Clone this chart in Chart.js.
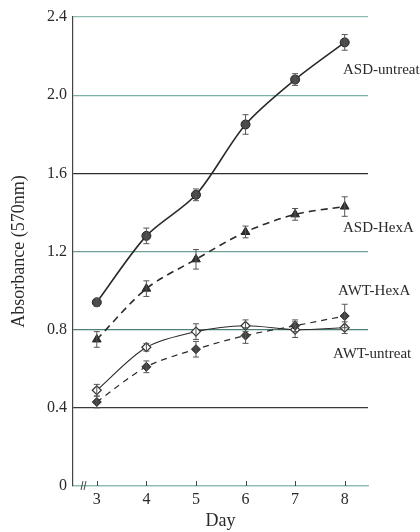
<!DOCTYPE html>
<html>
<head>
<meta charset="utf-8">
<script src="https://cdn.jsdelivr.net/npm/chart.js@4/dist/chart.umd.min.js"></script>
<style>
  html, body { margin: 0; padding: 0; background: #fff; }
  #wrap { width: 420px; height: 532px; }
</style>
</head>
<body>
<div id="wrap"><canvas id="chart"></canvas></div>
<script>
// Data
const days = [3, 4, 5, 6, 7, 8];
const yTicks = [0, 0.4, 0.8, 1.2, 1.6, 2.0, 2.4];

const asdUntreat = [0.94, 1.28, 1.49, 1.85, 2.08, 2.27];
const asdUntreatErr = [0.02, 0.04, 0.03, 0.05, 0.03, 0.04];

const asdHexA = [0.75, 1.01, 1.16, 1.30, 1.39, 1.43];
const asdHexAErr = [0.04, 0.04, 0.05, 0.03, 0.03, 0.05];

const awtUntreat = [0.49, 0.71, 0.79, 0.82, 0.80, 0.81];
const awtUntreatErr = [0.03, 0.02, 0.04, 0.03, 0.04, 0.03];

const awtHexA = [0.43, 0.61, 0.70, 0.77, 0.82, 0.87];
const awtHexAErr = [0.03, 0.03, 0.04, 0.04, 0.03, 0.06];

const seriesNames = ['ASD-untreat', 'ASD-HexA', 'AWT-HexA', 'AWT-untreat'];

const SERIF = '"Liberation Serif", "DejaVu Serif", serif';
const ink = '#2a2a2a';

// grid line colours per y tick (bottom to top)
const gridColors = ['#8cbcb2', '#3a3a3a', '#4f7f76', '#6f9f96', '#2e2e2e', '#7cb0a6', '#8cbcb2'];

function pts(vals) {
    return vals.map((v, i) => ({ x: days[i], y: v }));
}

// error bars, small upward x ticks, axis break and series labels
const extras = {
    id: 'extras',
    afterDatasetsDraw(chart) {
        const ctx = chart.ctx;
        const xs = chart.scales.x;
        const ys = chart.scales.y;
        ctx.save();
        ctx.strokeStyle = '#555';
        ctx.lineWidth = 1;
        chart.data.datasets.forEach(ds => {
            ds.data.forEach((p, i) => {
                const e = ds.err[i];
                const px = xs.getPixelForValue(p.x);
                const y1 = ys.getPixelForValue(p.y + e);
                const y2 = ys.getPixelForValue(p.y - e);
                ctx.beginPath();
                ctx.moveTo(px, y1); ctx.lineTo(px, y2);
                ctx.moveTo(px - 3, y1); ctx.lineTo(px + 3, y1);
                ctx.moveTo(px - 3, y2); ctx.lineTo(px + 3, y2);
                ctx.stroke();
            });
        });
        ctx.restore();
    },
    afterDraw(chart) {
        const ctx = chart.ctx;
        const xs = chart.scales.x;
        const ys = chart.scales.y;
        const base = ys.getPixelForValue(0);
        ctx.save();
        // ticks pointing up from the x axis
        ctx.strokeStyle = '#444';
        ctx.lineWidth = 1;
        days.forEach(d => {
            const px = Math.round(xs.getPixelForValue(d)) + 0.5;
            ctx.beginPath();
            ctx.moveTo(px, base);
            ctx.lineTo(px, base - 5);
            ctx.stroke();
        });
        // axis break mark
        const bx = chart.chartArea.left + 11;
        ctx.beginPath();
        ctx.moveTo(bx - 1, base - 5); ctx.lineTo(bx - 3, base + 4);
        ctx.moveTo(bx + 2, base - 5); ctx.lineTo(bx, base + 4);
        ctx.stroke();

        // series labels at the right side
        ctx.fillStyle = ink;
        ctx.font = '15px ' + SERIF;
        ctx.textBaseline = 'middle';
        const labelPos = [[343, 70], [343, 228], [338, 291], [333, 354]];
        seriesNames.forEach((name, i) => {
            ctx.fillText(name, labelPos[i][0], labelPos[i][1]);
        });
        ctx.restore();
    }
};

const ctx = document.getElementById('chart');
new Chart(ctx, {
    type: 'line',
    data: {
        datasets: [
            {
                label: 'ASD-untreat',
                data: pts(asdUntreat),
                err: asdUntreatErr,
                borderColor: ink,
                borderWidth: 1.6,
                tension: 0.3,
                pointStyle: 'circle',
                pointRadius: 4.5,
                pointBackgroundColor: '#4a4a4a',
                pointBorderColor: '#222',
                pointBorderWidth: 1
            },
            {
                label: 'ASD-HexA',
                data: pts(asdHexA),
                err: asdHexAErr,
                borderColor: ink,
                borderWidth: 1.6,
                borderDash: [7, 5],
                tension: 0.3,
                pointStyle: 'triangle',
                pointRadius: 5,
                pointBackgroundColor: '#333',
                pointBorderColor: '#222',
                pointBorderWidth: 1
            },
            {
                label: 'AWT-HexA',
                data: pts(awtHexA),
                err: awtHexAErr,
                borderColor: ink,
                borderWidth: 1.2,
                borderDash: [6, 5],
                tension: 0.3,
                pointStyle: 'rectRot',
                pointRadius: 4.5,
                pointBackgroundColor: '#444',
                pointBorderColor: '#222',
                pointBorderWidth: 1
            },
            {
                label: 'AWT-untreat',
                data: pts(awtUntreat),
                err: awtUntreatErr,
                borderColor: ink,
                borderWidth: 1.1,
                tension: 0.3,
                pointStyle: 'rectRot',
                pointRadius: 4.5,
                pointBackgroundColor: '#fff',
                pointBorderColor: '#333',
                pointBorderWidth: 1.2
            }
        ]
    },
    options: {
        responsive: true,
        maintainAspectRatio: false,
        animation: false,
        layout: { padding: { top: 17, right: 52, bottom: 0, left: 0 } },
        plugins: {
            legend: { display: false },
            tooltip: { enabled: false }
        },
        scales: {
            x: {
                type: 'linear',
                min: 2.52,
                max: 8.47,
                afterBuildTicks: axis => { axis.ticks = days.map(d => ({ value: d })); },
                afterFit: axis => { axis.height = 46; },
                grid: { display: false, drawTicks: false },
                border: { display: true, color: '#8cbcb2', width: 1.2 },
                ticks: {
                    padding: 4,
                    color: ink,
                    font: { family: SERIF, size: 16 },
                    callback: v => String(v)
                },
                title: {
                    display: true,
                    text: 'Day',
                    color: ink,
                    font: { family: SERIF, size: 18 },
                    padding: { top: 0, bottom: 0 }
                }
            },
            y: {
                min: 0,
                max: 2.4,
                afterBuildTicks: axis => { axis.ticks = yTicks.map(v => ({ value: v })); },
                afterFit: axis => { axis.width = 73; },
                grid: {
                    drawTicks: false,
                    lineWidth: 1.2,
                    color: c => gridColors[c.index] || '#888'
                },
                border: { display: true, color: '#444', width: 1.2 },
                ticks: {
                    padding: 6,
                    color: ink,
                    font: { family: SERIF, size: 16 },
                    callback: v => (v === 0 ? '0' : v.toFixed(1))
                },
                title: {
                    display: true,
                    text: 'Absorbance (570nm)',
                    color: ink,
                    font: { family: SERIF, size: 18 },
                    padding: { top: 8, bottom: 0 }
                }
            }
        }
    },
    plugins: [extras]
});
</script>
</body>
</html>
